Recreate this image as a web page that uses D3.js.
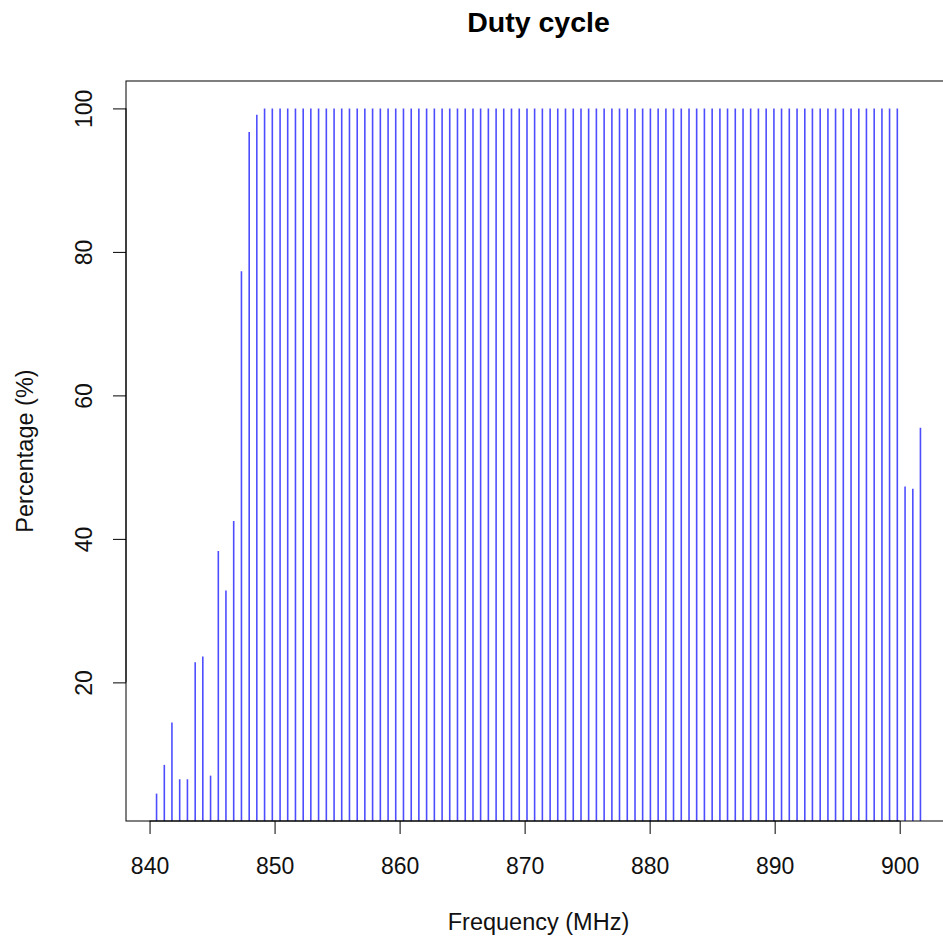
<!DOCTYPE html>
<html lang="en">
<head>
<meta charset="utf-8">
<title>Duty cycle</title>
<script src="https://d3js.org/d3.v7.min.js"></script>
<style>
body { margin: 0; background: #fff; }
svg { font-family: "Liberation Sans", Arial, Helvetica, sans-serif; }
.axis text { font-size: 23px; fill: #111; }
.axis line, .axis path { stroke: #000; }
</style>
</head>
<body>
<script>
// channel centre frequencies (MHz)
var freqs = [
  840.56, 841.18, 841.79, 842.41, 843.03, 843.65, 844.26, 844.88, 845.50, 846.11,
  846.73, 847.35, 847.97, 848.58, 849.20, 849.82, 850.44, 851.05, 851.67, 852.29,
  852.90, 853.52, 854.14, 854.76, 855.37, 855.99, 856.61, 857.22, 857.84, 858.46,
  859.08, 859.69, 860.31, 860.93, 861.54, 862.16, 862.78, 863.40, 864.01, 864.63,
  865.25, 865.87, 866.48, 867.10, 867.72, 868.33, 868.95, 869.57, 870.19, 870.80,
  871.42, 872.04, 872.65, 873.27, 873.89, 874.51, 875.12, 875.74, 876.36, 876.98,
  877.59, 878.21, 878.83, 879.44, 880.06, 880.68, 881.30, 881.91, 882.53, 883.15,
  883.76, 884.38, 885.00, 885.62, 886.23, 886.85, 887.47, 888.08, 888.70, 889.32,
  889.94, 890.55, 891.17, 891.79, 892.41, 893.02, 893.64, 894.26, 894.87, 895.49,
  896.11, 896.73, 897.34, 897.96, 898.58, 899.19, 899.81, 900.43, 901.05, 901.66
];
// duty cycle per channel (%)
var duty = [
  4.5, 8.5, 14.4, 6.5, 6.5, 22.8, 23.6, 7.0, 38.3, 32.8,
  42.5, 77.3, 96.7, 99.1, 100, 100, 100, 100, 100, 100,
  100, 100, 100, 100, 100, 100, 100, 100, 100, 100,
  100, 100, 100, 100, 100, 100, 100, 100, 100, 100,
  100, 100, 100, 100, 100, 100, 100, 100, 100, 100,
  100, 100, 100, 100, 100, 100, 100, 100, 100, 100,
  100, 100, 100, 100, 100, 100, 100, 100, 100, 100,
  100, 100, 100, 100, 100, 100, 100, 100, 100, 100,
  100, 100, 100, 100, 100, 100, 100, 100, 100, 100,
  100, 100, 100, 100, 100, 100, 100, 47.3, 47.0, 55.5
];
var xTicks = [840, 850, 860, 870, 880, 890, 900];
var yTicks = [20, 40, 60, 80, 100];

var W = 943, H = 942;
var plotL = 126, plotT = 81, plotR = 951, plotB = 821;

// R style 4% padding on both axes
function pad(ext) {
  var d = (ext[1] - ext[0]) * 0.04;
  return [ext[0] - d, ext[1] + d];
}

var x = d3.scaleLinear().domain(pad(d3.extent(freqs))).range([plotL, plotR]);
var y = d3.scaleLinear().domain(pad(d3.extent(duty))).range([plotB, plotT]);

var data = freqs.map(function (f, i) { return { f: f, v: duty[i] }; });

var svg = d3.select("body").append("svg")
  .attr("width", W)
  .attr("height", H);

svg.append("clipPath").attr("id", "plotclip")
  .append("rect")
  .attr("x", plotL).attr("y", plotT)
  .attr("width", plotR - plotL).attr("height", plotB - plotT);

// vertical "h" lines
svg.append("g")
  .attr("clip-path", "url(#plotclip)")
  .selectAll("line")
  .data(data)
  .enter().append("line")
  .attr("x1", function (d) { return x(d.f); })
  .attr("x2", function (d) { return x(d.f); })
  .attr("y1", y(0))
  .attr("y2", function (d) { return y(d.v); })
  .attr("stroke", "#2020ff")
  .attr("stroke-opacity", 0.8)
  .attr("stroke-width", 1.6);

// box
svg.append("rect")
  .attr("x", plotL).attr("y", plotT)
  .attr("width", plotR - plotL).attr("height", plotB - plotT)
  .attr("fill", "none")
  .attr("stroke", "#000")
  .attr("stroke-width", 1);

// x axis
var gx = svg.append("g")
  .attr("class", "axis")
  .attr("transform", "translate(0," + plotB + ")")
  .call(d3.axisBottom(x).tickValues(xTicks).tickSize(13).tickSizeOuter(0).tickFormat(d3.format("d")));
gx.select(".domain").remove();
gx.append("line")
  .attr("x1", x(xTicks[0])).attr("x2", x(xTicks[xTicks.length - 1]))
  .attr("y1", 0).attr("y2", 0);
gx.selectAll("text").attr("y", 53).attr("dy", 0);

// y axis
var gy = svg.append("g")
  .attr("class", "axis")
  .attr("transform", "translate(" + plotL + ",0)")
  .call(d3.axisLeft(y).tickValues(yTicks).tickSize(13).tickSizeOuter(0).tickFormat(d3.format("d")));
gy.select(".domain").remove();
gy.append("line")
  .attr("x1", 0).attr("x2", 0)
  .attr("y1", y(yTicks[0])).attr("y2", y(yTicks[yTicks.length - 1]));
gy.selectAll("text")
  .attr("x", 0).attr("y", 0).attr("dy", 0)
  .attr("text-anchor", "middle")
  .attr("transform", "translate(-34,0) rotate(-90)");

// titles
var cx = (plotL + plotR) / 2;
svg.append("text")
  .attr("x", cx).attr("y", 32)
  .attr("text-anchor", "middle")
  .style("font-size", "28.5px")
  .style("font-weight", "bold")
  .text("Duty cycle");

svg.append("text")
  .attr("x", cx).attr("y", 930)
  .attr("text-anchor", "middle")
  .style("font-size", "23.5px")
  .style("fill", "#111")
  .text("Frequency (MHz)");

svg.append("text")
  .attr("transform", "translate(33," + ((plotT + plotB) / 2) + ") rotate(-90)")
  .attr("text-anchor", "middle")
  .style("font-size", "23.5px")
  .style("fill", "#111")
  .text("Percentage (%)");
</script>
</body>
</html>
